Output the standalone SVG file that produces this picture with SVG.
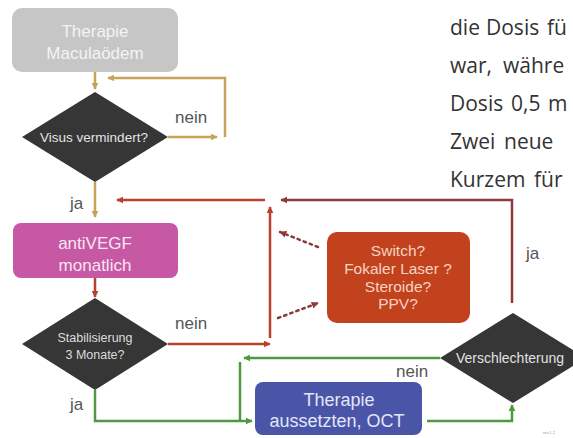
<svg xmlns="http://www.w3.org/2000/svg" width="573" height="438" viewBox="0 0 573 438">
<defs>
<style>
.lbl{font-family:"Liberation Sans",Arial,sans-serif;text-anchor:middle}
.body{font-family:"Open Sans","Noto Sans",sans-serif;font-size:21px;fill:#333}
.edge{fill:none;stroke-width:2.5}
.tan{stroke:#c8a258}
.red{stroke:#b8402e}
.mar{stroke:#8e3a3c}
.grn{stroke:#4f9a40}
.dot{fill:none;stroke:#8a3a3c;stroke-width:2.5;stroke-dasharray:2.5 4;stroke-linecap:round}
.dia{fill:#363636}
.side{font-family:"Liberation Sans",Arial,sans-serif;font-size:17px;fill:#555}
</style>
<marker id="aTan" viewBox="0 0 10 10" refX="9" refY="5" markerWidth="7" markerHeight="7" markerUnits="userSpaceOnUse" orient="auto"><path d="M0,0L10,5L0,10z" fill="#c8a258"/></marker>
<marker id="aRed" viewBox="0 0 10 10" refX="9" refY="5" markerWidth="7" markerHeight="7" markerUnits="userSpaceOnUse" orient="auto"><path d="M0,0L10,5L0,10z" fill="#b8402e"/></marker>
<marker id="aMar" viewBox="0 0 10 10" refX="9" refY="5" markerWidth="7" markerHeight="7" markerUnits="userSpaceOnUse" orient="auto"><path d="M0,0L10,5L0,10z" fill="#8e3a3c"/></marker>
<marker id="aGrn" viewBox="0 0 10 10" refX="9" refY="5" markerWidth="7" markerHeight="7" markerUnits="userSpaceOnUse" orient="auto"><path d="M0,0L10,5L0,10z" fill="#4f9a40"/></marker>
</defs>
<rect width="573" height="438" fill="#ffffff"/>

<g id="bodytext" class="body">
<text y="35"><tspan x="450">die</tspan><tspan x="486">Dosis</tspan><tspan x="547">fü</tspan></text>
<text y="73"><tspan x="450">war,</tspan><tspan x="503">währe</tspan></text>
<text y="111"><tspan x="450">Dosis</tspan><tspan x="511">0,5</tspan><tspan x="548">m</tspan></text>
<text y="149"><tspan x="450">Zwei</tspan><tspan x="504">neue</tspan></text>
<text y="187"><tspan x="450">Kurzem</tspan><tspan x="534">für</tspan></text>
</g>

<g id="connectors">
<line class="edge tan" x1="95" y1="72" x2="95" y2="89" marker-end="url(#aTan)"/>
<line class="edge tan" x1="168" y1="137" x2="217" y2="137" marker-end="url(#aTan)"/>
<path class="edge tan" d="M225,137 V78 H108" marker-end="url(#aTan)"/>
<line class="edge tan" x1="95" y1="182" x2="95" y2="217" marker-end="url(#aTan)"/>
<line class="edge red" x1="265" y1="200" x2="117" y2="200" marker-end="url(#aRed)"/>
<path class="edge mar" d="M512,303 V200 H281" marker-end="url(#aMar)"/>
<line class="edge red" x1="95" y1="278" x2="95" y2="297" marker-end="url(#aRed)"/>
<line class="edge red" x1="168" y1="344" x2="270" y2="344" marker-end="url(#aRed)"/>
<line class="edge red" x1="270" y1="338" x2="270" y2="207" marker-end="url(#aRed)"/>
<line class="dot" x1="318" y1="247" x2="280" y2="232" marker-end="url(#aMar)"/>
<line class="dot" x1="278" y1="318" x2="318" y2="303" marker-end="url(#aMar)"/>
<line class="edge grn" x1="440" y1="358" x2="244" y2="358" marker-end="url(#aGrn)"/>
<line class="edge grn" x1="240" y1="362" x2="240" y2="421"/>
<path class="edge grn" d="M95,390 V421 H252" marker-end="url(#aGrn)"/>
<path class="edge grn" d="M427,421 H512 V405" marker-end="url(#aGrn)"/>
<text class="side" x="175" y="123">nein</text>
<text class="side" x="175" y="329">nein</text>
<text class="side" x="396" y="377">nein</text>
<text class="side" x="70" y="209">ja</text>
<text class="side" x="70" y="410">ja</text>
<text class="side" x="526" y="259">ja</text>
</g>

<g id="n-maculaoedem">
<rect x="12" y="8" width="166" height="64" rx="10" fill="#c6c6c6"/>
<text class="lbl" x="95" y="37" font-size="17" fill="#f4f4f4">Therapie</text>
<text class="lbl" x="95" y="59" font-size="17" fill="#f4f4f4">Maculaödem</text>
</g>

<g id="n-visus">
<polygon class="dia" points="95,92 168,137 95,182 22,137"/>
<text class="lbl" x="94" y="142" font-size="13.5" fill="#e4e4e4">Visus vermindert?</text>
</g>

<g id="n-antivegf">
<rect x="13" y="223" width="165" height="55" rx="8" fill="#c658a4"/>
<text class="lbl" x="95" y="249" font-size="17" fill="#f8e6f2">antiVEGF</text>
<text class="lbl" x="95" y="271" font-size="17" fill="#f8e6f2">monatlich</text>
</g>

<g id="n-stabil">
<polygon class="dia" points="95,298 168,344 95,390 22,344"/>
<text class="lbl" x="95" y="342" font-size="12.5" fill="#dcdcdc">Stabilisierung</text>
<text class="lbl" x="95" y="359" font-size="12.5" fill="#dcdcdc">3 Monate?</text>
</g>

<g id="n-optionen">
<rect x="327" y="232" width="143" height="91" rx="10" fill="#c2421e"/>
<text class="lbl" x="398" y="256" font-size="15.5" fill="#f6d2c2">Switch?</text>
<text class="lbl" x="398" y="274" font-size="15.5" fill="#f6d2c2">Fokaler Laser ?</text>
<text class="lbl" x="398" y="292" font-size="15.5" fill="#f6d2c2">Steroide?</text>
<text class="lbl" x="398" y="309" font-size="15.5" fill="#f6d2c2">PPV?</text>
</g>

<g id="n-verschlechterung">
<polygon class="dia" points="513,313 586,358 513,403 440,358"/>
<text class="lbl" x="510" y="363" font-size="14" fill="#e2e2e2">Verschlechterung</text>
</g>

<g id="n-aussetzen">
<rect x="255" y="382" width="167" height="53" rx="8" fill="#4a55a8"/>
<text class="lbl" x="339" y="406" font-size="18" fill="#e2e6f8">Therapie</text>
<text class="lbl" x="337" y="427" font-size="18" fill="#e2e6f8">aussetzten, OCT</text>
</g>

<text x="543" y="434" font-family="Liberation Sans, sans-serif" font-size="4" fill="#999">rev.1.2</text>
</svg>
